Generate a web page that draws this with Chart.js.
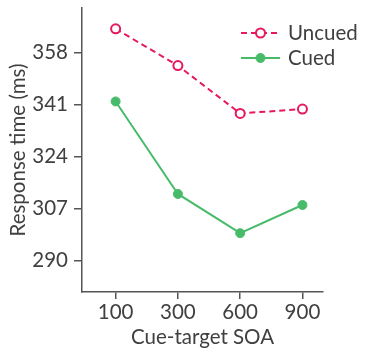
<!DOCTYPE html>
<html><head><meta charset="utf-8">
<script src="https://cdn.jsdelivr.net/npm/chart.js@4"></script>
<style>html,body{margin:0;padding:0;background:#fff}#wrap{width:365px;height:352px}</style>
</head><body><div id="wrap"><canvas id="c" width="365" height="352"></canvas></div>
<script>
const categories = ['100', '300', '600', '900'];
const uncued = [365.7, 353.7, 338.1, 339.5];
const cued = [342.0, 311.8, 299.0, 308.2];
const yTicks = [290, 307, 324, 341, 358];
const seriesNames = ['Uncued', 'Cued'];

const PINK = '#e8185c';
const GREEN = '#48bb6a';
const AXIS = '#555555';
const TEXT = '#404040';
const FONT = 'Lato';
const FS = 20.5;

const legendPlugin = {
  id: 'customLegend',
  afterDraw(chart) {
    const ctx = chart.ctx;
    const ca = chart.chartArea;
    chart.data.datasets.forEach((ds, i) => {
      const y = ca.top + 25 + i * 25;
      const x0 = ca.right - 82;
      const x1 = ca.right - 43;
      ctx.save();
      ctx.strokeStyle = ds.borderColor;
      ctx.lineWidth = ds.borderWidth;
      ctx.setLineDash(ds.borderDash || []);
      ctx.beginPath(); ctx.moveTo(x0, y); ctx.lineTo(x1, y); ctx.stroke();
      ctx.setLineDash([]);
      ctx.beginPath();
      ctx.arc((x0 + x1) / 2, y, ds.pointRadius, 0, Math.PI * 2);
      ctx.fillStyle = ds.pointBackgroundColor;
      ctx.fill();
      ctx.lineWidth = ds.pointBorderWidth;
      ctx.strokeStyle = ds.pointBorderColor;
      ctx.stroke();
      ctx.fillStyle = TEXT;
      ctx.font = FS + 'px ' + FONT;
      ctx.textBaseline = 'middle';
      ctx.textAlign = 'left';
      ctx.fillText(ds.label, ca.right - 35, y);
      ctx.restore();
    });
  }
};

new Chart(document.getElementById('c'), {
  type: 'line',
  data: {
    datasets: [
      {
        label: seriesNames[0],
        data: uncued.map((v, i) => ({ x: i, y: v })),
        borderColor: PINK, borderWidth: 2, borderDash: [6, 4],
        pointRadius: 4.5, pointBorderWidth: 2, pointBackgroundColor: '#ffffff', pointBorderColor: PINK,
        fill: false, tension: 0
      },
      {
        label: seriesNames[1],
        data: cued.map((v, i) => ({ x: i, y: v })),
        borderColor: GREEN, borderWidth: 2,
        pointRadius: 4.5, pointBorderWidth: 1, pointBackgroundColor: GREEN, pointBorderColor: GREEN,
        fill: false, tension: 0
      }
    ]
  },
  options: {
    responsive: false,
    animation: false,
    devicePixelRatio: 1,
    layout: { padding: { left: 0, top: 8, right: 42, bottom: 0 } },
    plugins: { legend: { display: false }, tooltip: { enabled: false } },
    scales: {
      x: {
        type: 'linear', min: -0.54, max: 3.33,
        afterBuildTicks: s => { s.ticks = categories.map((c, i) => ({ value: i })); },
        afterFit: s => { s.height = 60; s.paddingLeft = 0; s.paddingRight = 0; },
        ticks: { autoSkip: false, callback: v => categories[v], color: TEXT, font: { family: FONT, size: FS }, padding: 1, maxRotation: 0 },
        grid: { display: true, drawOnChartArea: false, drawTicks: true, tickLength: 7, color: AXIS, lineWidth: 1.5 },
        border: { display: true, color: AXIS, width: 1.5 },
        title: { display: true, text: 'Cue-target SOA', color: TEXT, font: { family: FONT, size: FS }, padding: { top: 2, bottom: 2 } }
      },
      y: {
        type: 'linear', min: 279.8, max: 372.5,
        afterBuildTicks: s => { s.ticks = yTicks.map(v => ({ value: v })); },
        afterFit: s => { s.width = 82; s.paddingTop = 0; s.paddingBottom = 0; },
        ticks: { autoSkip: false, color: TEXT, font: { family: FONT, size: FS }, padding: 6 },
        grid: { display: true, drawOnChartArea: false, drawTicks: true, tickLength: 8, color: AXIS, lineWidth: 1.5 },
        border: { display: true, color: AXIS, width: 1.5 },
        title: { display: true, text: 'Response time (ms)', color: TEXT, font: { family: FONT, size: FS }, padding: { top: 6, bottom: 2 } }
      }
    }
  },
  plugins: [legendPlugin]
});
</script>
</body></html>
